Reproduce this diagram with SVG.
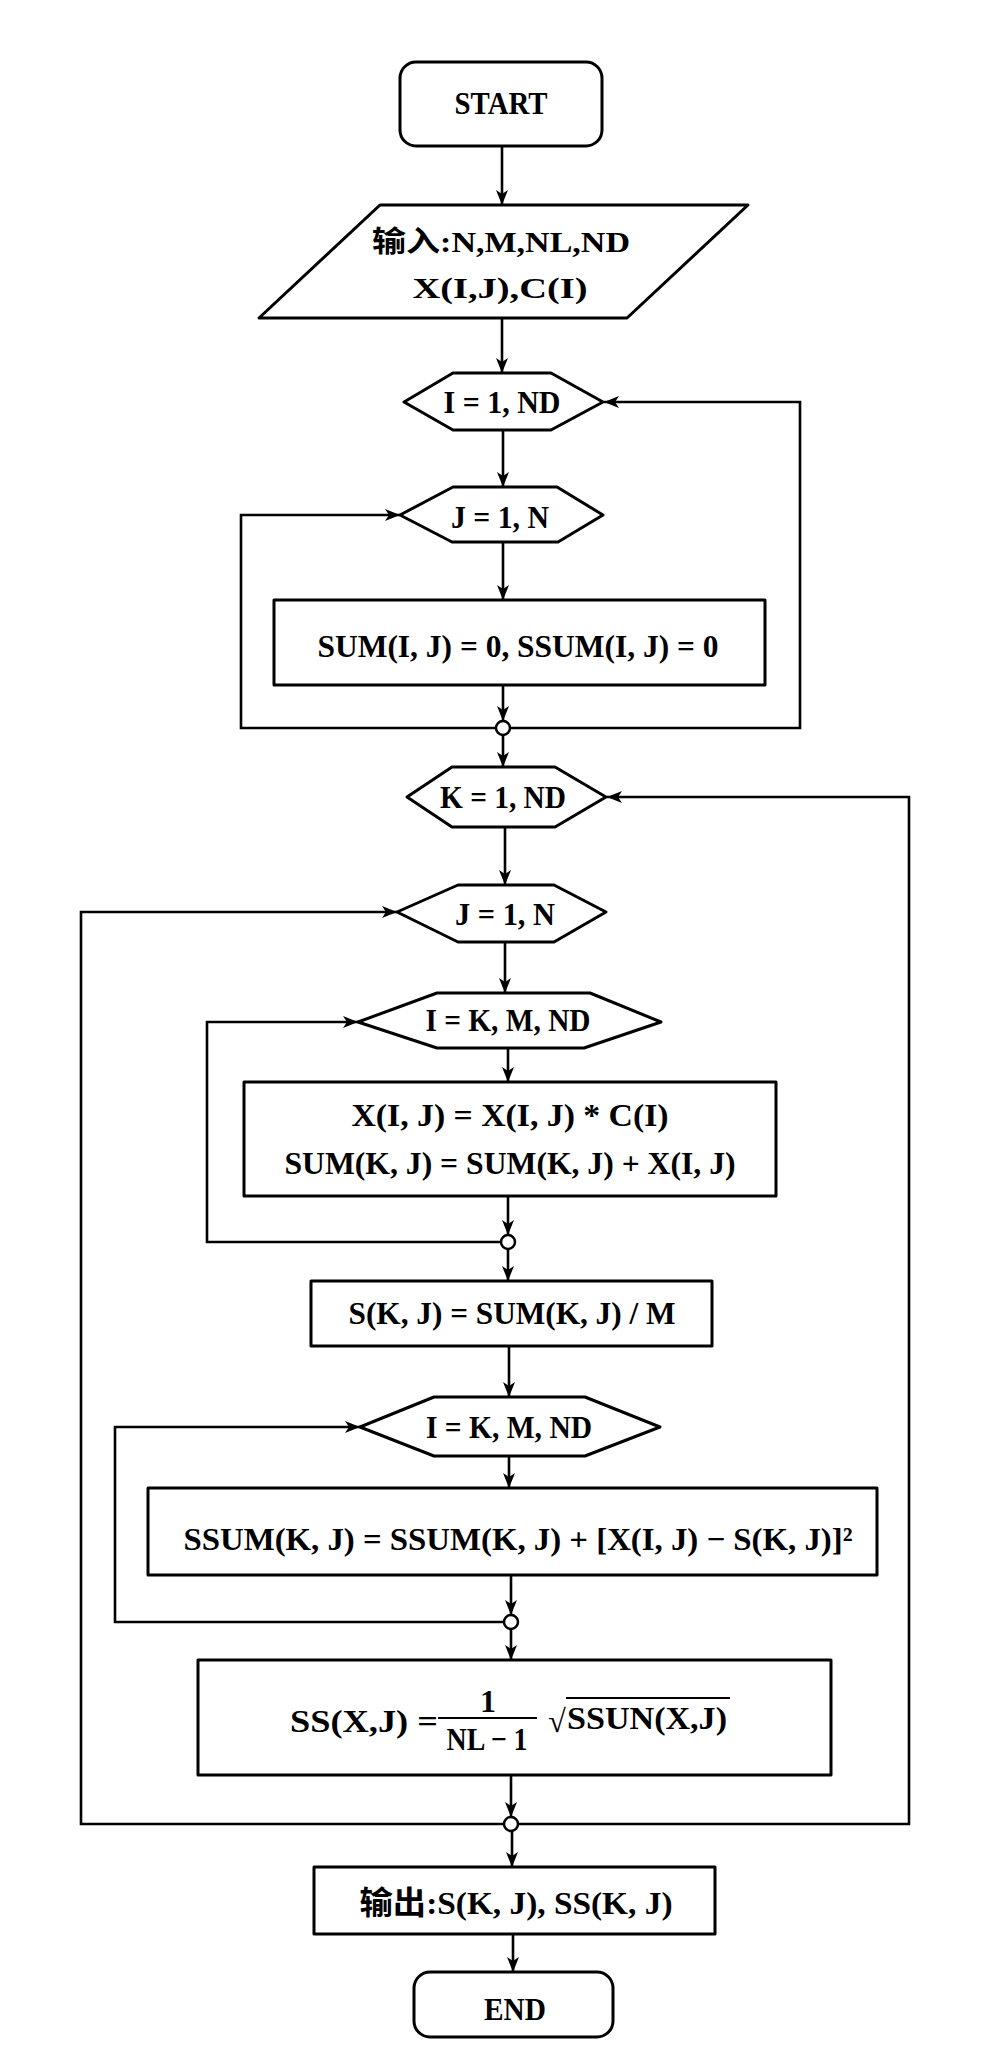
<svg xmlns="http://www.w3.org/2000/svg" width="981" height="2068" viewBox="0 0 981 2068">
<style>
.s{fill:#fff;stroke:#000;stroke-width:3;stroke-linejoin:round}
.c{fill:none;stroke:#000;stroke-width:2.6}
.j{fill:#fff;stroke:#000;stroke-width:2.5}
text{font-family:"Liberation Serif","Noto Sans CJK SC",serif;font-weight:bold;fill:#000;text-anchor:middle}
.h{font-size:31px}
.b{font-size:32px}
</style>
<defs>
<marker id="a" markerUnits="userSpaceOnUse" markerWidth="16" markerHeight="12" refX="15" refY="6" orient="auto">
<path d="M0,0 L15,6 L0,12 L4,6 z" fill="#000"/>
</marker>
</defs>
<rect width="981" height="2068" fill="#fff"/>
<g id="connectors">
<path class="c" d="M502,146 V205" marker-end="url(#a)"/>
<path class="c" d="M502,318 V373" marker-end="url(#a)"/>
<path class="c" d="M503,430 V487" marker-end="url(#a)"/>
<path class="c" d="M503,542 V600" marker-end="url(#a)"/>
<path class="c" d="M503,685 V721" marker-end="url(#a)"/>
<path class="c" d="M510,728 H800 V402 H604" marker-end="url(#a)"/>
<path class="c" d="M496,728 H241 V515 H400" marker-end="url(#a)"/>
<path class="c" d="M503,735 V767" marker-end="url(#a)"/>
<path class="c" d="M505,827 V885" marker-end="url(#a)"/>
<path class="c" d="M505,942 V993" marker-end="url(#a)"/>
<path class="c" d="M508,1048 V1082" marker-end="url(#a)"/>
<path class="c" d="M508,1196 V1235" marker-end="url(#a)"/>
<path class="c" d="M501,1242 H207 V1022 H358" marker-end="url(#a)"/>
<path class="c" d="M508,1249 V1281" marker-end="url(#a)"/>
<path class="c" d="M509,1346 V1397" marker-end="url(#a)"/>
<path class="c" d="M509,1456 V1488" marker-end="url(#a)"/>
<path class="c" d="M511,1575 V1615" marker-end="url(#a)"/>
<path class="c" d="M504,1622 H115 V1427 H360" marker-end="url(#a)"/>
<path class="c" d="M511,1629 V1660" marker-end="url(#a)"/>
<path class="c" d="M511,1775 V1817" marker-end="url(#a)"/>
<path class="c" d="M504,1824 H81 V912 H397" marker-end="url(#a)"/>
<path class="c" d="M518,1824 H909 V797 H607" marker-end="url(#a)"/>
<path class="c" d="M512,1831 V1867" marker-end="url(#a)"/>
<path class="c" d="M513,1934 V1972" marker-end="url(#a)"/>
</g>
<g id="start">
<rect class="s" x="400" y="62" width="202" height="84" rx="16"/>
<text class="h" x="501" y="114" textLength="93" lengthAdjust="spacingAndGlyphs">START</text>
</g>
<g id="input">
<polygon class="s" points="380,205 748,205 627,318 259,318"/>
<text style="font-size:29px" x="501" y="252" textLength="258" lengthAdjust="spacingAndGlyphs">输入:N,M,NL,ND</text>
<text style="font-size:29px" x="500" y="298" textLength="175" lengthAdjust="spacingAndGlyphs">X(I,J),C(I)</text>
</g>
<g id="loopI1">
<polygon class="s" points="404,402 453,373 551,373 603,402 551,430 453,430"/>
<text class="h" x="502" y="413" textLength="117" lengthAdjust="spacingAndGlyphs">I = 1, ND</text>
</g>
<g id="loopJ1">
<polygon class="s" points="400,515 453,487 557,487 603,515 558,542 452,542"/>
<text class="h" x="500" y="528" textLength="98" lengthAdjust="spacingAndGlyphs">J = 1, N</text>
</g>
<g id="init">
<rect class="s" x="274" y="600" width="491" height="85"/>
<text class="b" x="518" y="657" textLength="401" lengthAdjust="spacingAndGlyphs">SUM(I, J) = 0, SSUM(I, J) = 0</text>
</g>
<g id="join1"><circle class="j" cx="503" cy="728" r="7"/></g>
<g id="loopK">
<polygon class="s" points="407,797 452,767 555,767 606,797 555,827 452,827"/>
<text class="h" x="503" y="808" textLength="126" lengthAdjust="spacingAndGlyphs">K = 1, ND</text>
</g>
<g id="loopJ2">
<polygon class="s" points="397,912 458,885 554,885 606,912 554,942 458,942"/>
<text class="h" x="505" y="925" textLength="100" lengthAdjust="spacingAndGlyphs">J = 1, N</text>
</g>
<g id="loopI2">
<polygon class="s" points="358,1022 437,993 590,993 661,1022 584,1048 437,1048"/>
<text class="h" x="508" y="1031" textLength="165" lengthAdjust="spacingAndGlyphs">I = K, M, ND</text>
</g>
<g id="sum">
<rect class="s" x="244" y="1082" width="532" height="114"/>
<text class="b" x="510" y="1126" textLength="317" lengthAdjust="spacingAndGlyphs">X(I, J) = X(I, J) * C(I)</text>
<text class="b" x="510" y="1174" textLength="451" lengthAdjust="spacingAndGlyphs">SUM(K, J) = SUM(K, J) + X(I, J)</text>
</g>
<g id="join2"><circle class="j" cx="508" cy="1242" r="7"/></g>
<g id="mean">
<rect class="s" x="311" y="1281" width="401" height="65"/>
<text class="b" x="512" y="1324" textLength="327" lengthAdjust="spacingAndGlyphs">S(K, J) = SUM(K, J) / M</text>
</g>
<g id="loopI3">
<polygon class="s" points="360,1427 434,1397 585,1397 660,1427 585,1456 434,1456"/>
<text class="h" x="509" y="1438" textLength="166" lengthAdjust="spacingAndGlyphs">I = K, M, ND</text>
</g>
<g id="ssum">
<rect class="s" x="148" y="1488" width="729" height="87"/>
<text class="b" x="518" y="1550" textLength="669" lengthAdjust="spacingAndGlyphs">SSUM(K, J) = SSUM(K, J) + [X(I, J) − S(K, J)]²</text>
</g>
<g id="join3"><circle class="j" cx="511" cy="1622" r="7"/></g>
<g id="ss">
<rect class="s" x="198" y="1660" width="633" height="115"/>
<text class="b" x="364" y="1732" textLength="148" lengthAdjust="spacingAndGlyphs">SS(X,J) =</text>
<text class="b" x="488" y="1712">1</text>
<line x1="438" y1="1718" x2="537" y2="1718" stroke="#000" stroke-width="2"/>
<text class="b" x="487" y="1750" textLength="81" lengthAdjust="spacingAndGlyphs">NL − 1</text>
<text class="b" x="557" y="1732">√</text>
<line x1="566" y1="1698" x2="730" y2="1698" stroke="#000" stroke-width="2"/>
<text class="b" x="647" y="1729" textLength="160" lengthAdjust="spacingAndGlyphs">SSUN(X,J)</text>
</g>
<g id="join4"><circle class="j" cx="511" cy="1824" r="7"/></g>
<g id="output">
<rect class="s" x="314" y="1867" width="401" height="67"/>
<text class="b" x="516" y="1914" textLength="313" lengthAdjust="spacingAndGlyphs">输出:S(K, J), SS(K, J)</text>
</g>
<g id="end">
<rect class="s" x="414" y="1972" width="199" height="65" rx="16"/>
<text class="h" x="515" y="2020" textLength="62" lengthAdjust="spacingAndGlyphs">END</text>
</g>
</svg>
